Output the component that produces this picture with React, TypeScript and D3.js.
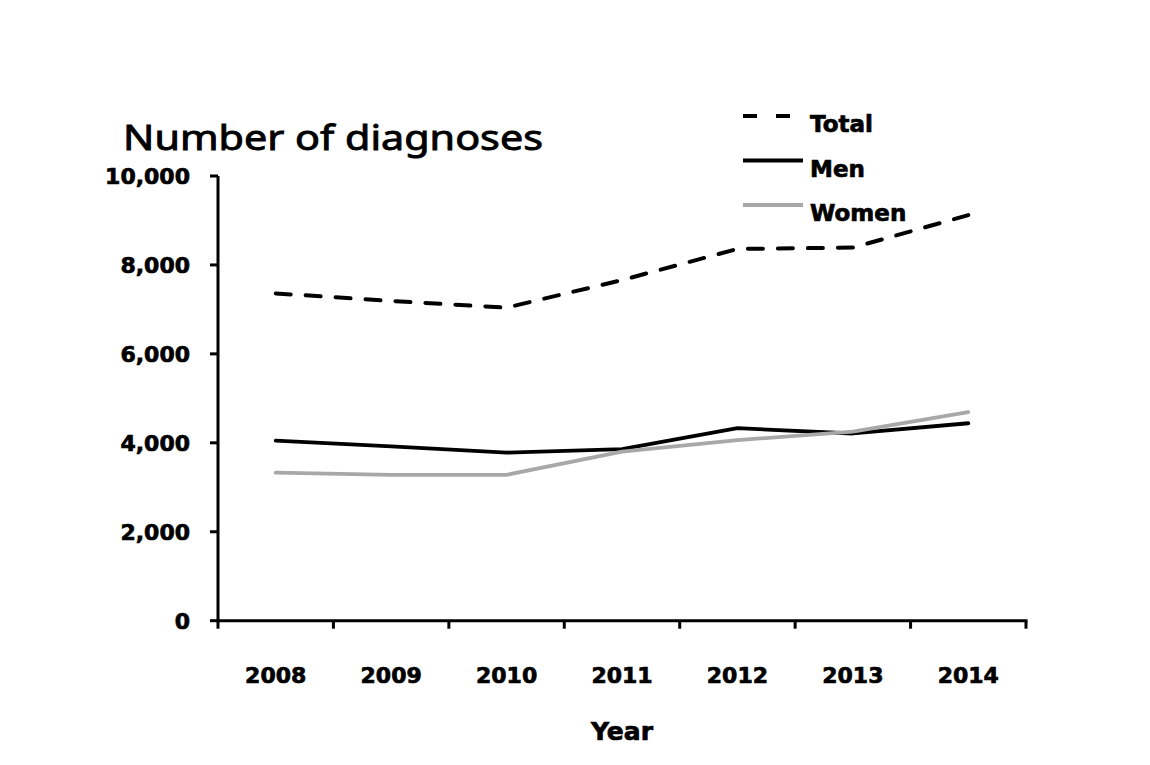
import React from "react";
import * as d3 from "d3";

const years = ["2008", "2009", "2010", "2011", "2012", "2013", "2014"];
const totalValues = [7360, 7190, 7040, 7660, 8360, 8390, 9120];
const menValues = [4050, 3920, 3780, 3860, 4330, 4210, 4440];
const womenValues = [3330, 3280, 3280, 3800, 4060, 4250, 4690];
const yTicks = [0, 2000, 4000, 6000, 8000, 10000];

const series = [
  { name: "Total", values: totalValues, color: "#000", dash: "15 15" },
  { name: "Men", values: menValues, color: "#000", dash: null },
  { name: "Women", values: womenValues, color: "#a8a8a8", dash: null },
];

const W = 1150;
const H = 765;
const left = 218;
const right = 1026;
const top = 176;
const bottom = 620.7;

export default function App() {
  const x = d3.scaleBand<string>().domain(years).range([left, right]).padding(0);
  const y = d3.scaleLinear().domain([0, 10000]).range([bottom, top]);
  const cx = (d: string) => (x(d) as number) + x.bandwidth() / 2;
  const line = d3
    .line<number>()
    .x((_, i) => cx(years[i]))
    .y((v) => y(v));
  const fmt = d3.format(",");
  const boundaries = years.map((d) => x(d) as number).concat([right]);
  const boldFont = "'DejaVu Sans', sans-serif";
  const heavy = { stroke: "#000", strokeWidth: 0.7 };

  return (
    <svg
      width={W}
      height={H}
      style={{ position: "absolute", left: 0, top: 0, background: "#fff" }}
    >
      <rect x={0} y={0} width={W} height={H} fill="#fff" />
      <text
        x={123}
        y={150}
        fontFamily="'Noto Sans', sans-serif"
        fontSize={35}
        textLength={420}
        lengthAdjust="spacingAndGlyphs"
        fill="#000"
        stroke="#000"
        strokeWidth={0.9}
      >
        Number of diagnoses
      </text>

      {/* Y axis */}
      <line x1={left} x2={left} y1={top} y2={bottom + 1.5} stroke="#000" strokeWidth={3} />
      {yTicks.map((t) => (
        <g key={t}>
          <line x1={left - 8} x2={left} y1={y(t)} y2={y(t)} stroke="#000" strokeWidth={3} />
          <text
            x={190}
            y={y(t)}
            dy="0.36em"
            textAnchor="end"
            fontFamily={boldFont}
            fontWeight="bold"
            fontSize={22}
            fill="#000"
            {...heavy}
          >
            {fmt(t)}
          </text>
        </g>
      ))}

      {/* X axis */}
      <line x1={left - 1.5} x2={right + 1.5} y1={bottom} y2={bottom} stroke="#000" strokeWidth={3} />
      {boundaries.map((b, i) => (
        <line key={i} x1={b} x2={b} y1={bottom} y2={bottom + 8} stroke="#000" strokeWidth={3} />
      ))}
      {years.map((d) => (
        <text
          key={d}
          x={cx(d)}
          y={683}
          textAnchor="middle"
          fontFamily={boldFont}
          fontWeight="bold"
          fontSize={22}
          fill="#000"
          {...heavy}
        >
          {d}
        </text>
      ))}
      <text
        x={(left + right) / 2}
        y={740}
        textAnchor="middle"
        fontFamily={boldFont}
        fontWeight="bold"
        fontSize={25}
        fill="#000"
        {...heavy}
      >
        Year
      </text>

      {/* Lines */}
      {series.map((s) => (
        <path
          key={s.name}
          d={line(s.values) as string}
          fill="none"
          stroke={s.color}
          strokeWidth={s.dash ? 4 : 3.8}
          strokeDasharray={s.dash ?? undefined}
          strokeLinecap="round"
          strokeLinejoin="round"
        />
      ))}

      {/* Legend */}
      {series.map((s, i) => {
        const ly = 116 + i * 44.5;
        return (
          <g key={s.name}>
            <line
              x1={743}
              x2={s.dash ? 790 : 803}
              y1={ly}
              y2={ly}
              stroke={s.color}
              strokeWidth={4}
              strokeDasharray={s.dash ? "14 19" : undefined}
            />
            <text
              x={810}
              y={ly + 16}
              fontFamily={boldFont}
              fontWeight="bold"
              fontSize={23}
              fill="#000"
              {...heavy}
            >
              {s.name}
            </text>
          </g>
        );
      })}
    </svg>
  );
}
